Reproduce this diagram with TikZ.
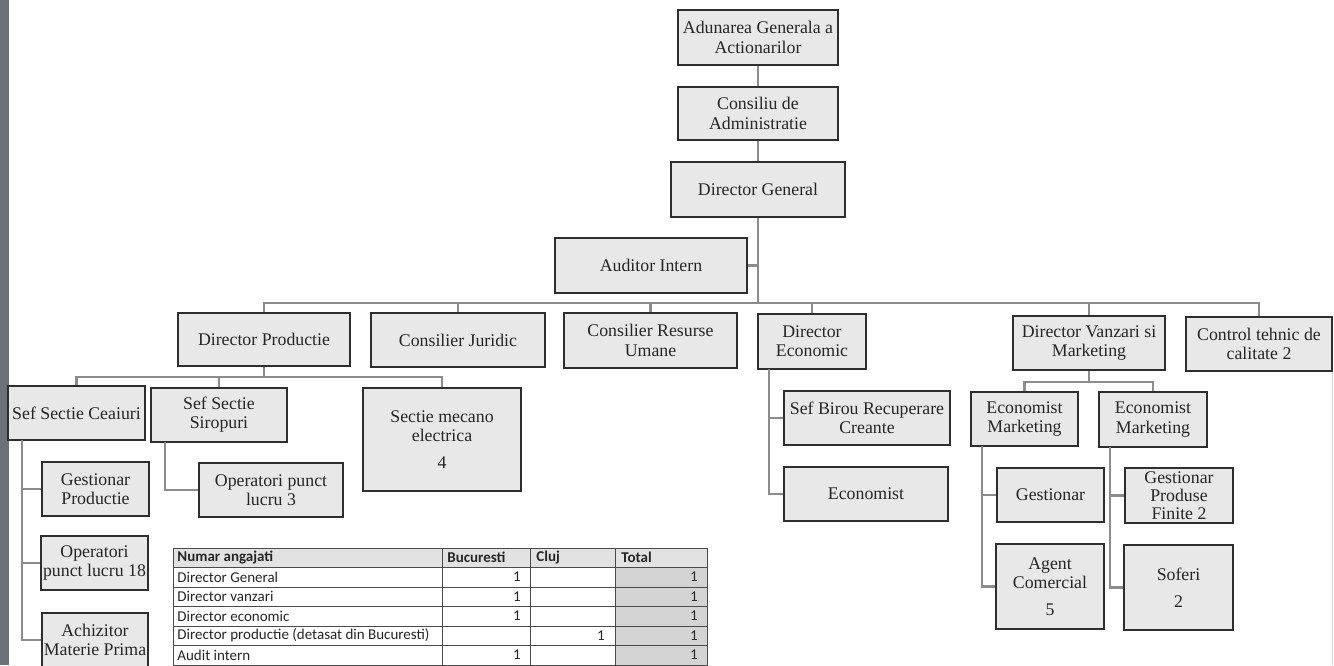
\documentclass[tikz,border=0pt]{standalone}
\usepackage{fontspec}
\setmainfont{Liberation Serif}
\newfontfamily\calibri{Carlito}
\definecolor{boxfill}{HTML}{E8E8E8}
\definecolor{boxline}{HTML}{2E2E2E}
\definecolor{connc}{HTML}{8C8C8C}
\definecolor{txt}{HTML}{262626}
\definecolor{tblhead}{HTML}{E2E2E2}
\definecolor{tbltot}{HTML}{D4D4D4}
\definecolor{tblline}{HTML}{4A4A4A}
\definecolor{stripc}{HTML}{6E7276}
\tikzset{
 obox/.style={draw=boxline, fill=boxfill, line width=1.4pt, text=txt, align=center, inner sep=0.5pt, font=\fontsize{8.9}{9.6}\selectfont},
 conn/.style={draw=connc, line width=1.3pt},
 tcell/.style={font=\calibri\fontsize{7.5}{8}\selectfont, text=txt, inner sep=0pt},
 thead/.style={tcell, font=\calibri\bfseries\fontsize{7.5}{8}\selectfont},
 tline/.style={draw=tblline, line width=0.5pt},
}
\newcommand\orgbox[6]{\node[obox, minimum width={(#4-#2)*0.5pt}, minimum height={(#5-#3)*0.5pt}] (#1) at ({(#2+#4)/2},{(#3+#5)/2}) {#6};}
\begin{document}
\begin{tikzpicture}[x=0.5pt,y=-0.5pt]
\useasboundingbox (0,0) rectangle (1334,665);
\begin{scope}
\clip (0,0) rectangle (1334,665);
\fill[white] (0,0) rectangle (1334,665);
\fill[stripc] (0,0) rectangle (9,665);
\draw[gray!30, line width=0.4pt] (1332,372) -- (1332,665);

% boxes
\orgbox{adunarea}{678}{10}{838}{65}{Adunarea Generala a\\Actionarilor}
\orgbox{consiliu}{678}{87}{838}{140}{Consiliu de\\Administratie}
\orgbox{dg}{671}{162}{845}{217}{Director General}
\orgbox{auditor}{555}{238}{747}{293}{Auditor Intern}

\orgbox{dirprod}{178}{313}{350}{366}{Director Productie}
\orgbox{consjur}{371}{313}{545}{367}{Consilier Juridic}
\orgbox{consru}{564}{313}{737}{368}{Consilier Resurse\\Umane}
\orgbox{direc}{758}{314}{866}{369}{Director\\Economic}
\orgbox{dirvm}{1013}{316}{1165}{370}{Director Vanzari si\\Marketing}
\orgbox{control}{1186}{317}{1332}{371}{Control tehnic de\\calitate 2}

\orgbox{ceaiuri}{8}{386}{145}{440}{Sef Sectie Ceaiuri}
\orgbox{siropuri}{151}{388}{287}{442}{Sef Sectie\\Siropuri}
\orgbox{mecano}{363}{388}{521}{491}{Sectie mecano\\electrica\\[4pt]4}
\orgbox{gestprod}{42}{462}{149}{516}{Gestionar\\Productie}
\orgbox{opdoi}{41}{536}{148}{590}{Operatori\\punct lucru 18}
\orgbox{achiz}{42}{613}{148}{667}{Achizitor\\Materie Prima}
\orgbox{optrei}{199}{463}{343}{517}{Operatori punct\\lucru 3}

\orgbox{sefbirou}{784}{391}{950}{445}{Sef Birou Recuperare\\Creante}
\orgbox{economist}{784}{467}{948}{521}{Economist}

\orgbox{emunu}{971}{392}{1078}{446}{Economist\\Marketing}
\orgbox{emdoi}{1099}{392}{1207}{447}{Economist\\Marketing}
\orgbox{gestionar}{997}{468}{1104}{522}{Gestionar}
\orgbox{agent}{996}{544}{1104}{629}{Agent\\Comercial\\[4pt]5}
\node[obox, minimum width={108*0.5pt}, minimum height={55*0.5pt}, font=\fontsize{8.9}{9}\selectfont] (gpf) at (1179,495.5) {Gestionar\\Produse\\Finite 2};
\orgbox{soferi}{1124}{545}{1233}{630}{Soferi\\[4pt]2}

% connectors
\coordinate (bus) at (758,303);
\coordinate (pbus) at (264,377);
\coordinate (vbus) at (1089,382);
\coordinate (cspine) at (22,440);
\coordinate (sspine) at (165,442);
\coordinate (espine) at (769,369);
\coordinate (mspineA) at (982,446);
\coordinate (mspineB) at (1110,447);

\draw[conn] (adunarea.south) -- (consiliu.north);
\draw[conn] (consiliu.south) -- (dg.north);
\draw[conn] (dg.south) -- (bus);
\draw[conn] (auditor.east) -- (auditor.east -| bus);
\foreach \n in {dirprod,consjur,consru,direc,dirvm,control}{
  \draw[conn] (\n.north) |- (bus);
}
\draw[conn] (dirprod.south) -- (pbus);
\foreach \n in {ceaiuri,siropuri,mecano}{
  \draw[conn] (\n.north) |- (pbus);
}
\draw[conn] (dirvm.south) -- (vbus);
\foreach \n in {emunu,emdoi}{
  \draw[conn] (\n.north) |- (vbus);
}
\draw[conn] (cspine) |- (gestprod.west);
\draw[conn] (cspine) |- (opdoi.west);
\draw[conn] (cspine) |- (achiz.west);
\draw[conn] (sspine) |- (optrei.west);
\draw[conn] (espine) |- (sefbirou.west);
\draw[conn] (espine) |- (economist.west);
\draw[conn] (mspineA) |- (gestionar.west);
\draw[conn] (mspineA) |- (agent.west);
\draw[conn] (mspineB) |- (gpf.west);
\draw[conn] (mspineB) |- (soferi.west);

% table
\fill[tblhead] (173,548) rectangle (707,567);
\fill[tbltot] (615,567) rectangle (707,690);
\foreach \yy in {548,567,587,606,626,645,665,684}{
  \draw[tline] (173,\yy) -- (707,\yy);
}
\foreach \xx in {173,442,530,615,707}{
  \draw[tline] (\xx,548) -- (\xx,690);
}
\node[thead, anchor=west] (th1) at (177,557.5) {Numar angajati};
\node[thead, anchor=west] (th2) at (447,557.5) {Bucuresti};
\node[thead, anchor=west] (th3) at (536,557.5) {Cluj};
\node[thead, anchor=west] (th4) at (621,557.5) {Total};
\node[tcell, anchor=west] (r1) at (177,577) {Director General};
\node[tcell, anchor=west] (r2) at (177,596.5) {Director vanzari};
\node[tcell, anchor=west] (r3) at (177,616) {Director economic};
\node[tcell, anchor=west] (r4) at (177,635.5) {Director productie (detasat din Bucuresti)};
\node[tcell, anchor=west] (r5) at (177,655) {Audit intern};
\node[tcell, anchor=east] (b1) at (521,577) {1};
\node[tcell, anchor=east] (b2) at (521,596.5) {1};
\node[tcell, anchor=east] (b3) at (521,616) {1};
\node[tcell, anchor=east] (b5) at (521,655) {1};
\node[tcell, anchor=east] (c4) at (605,635.5) {1};
\node[tcell, anchor=east] (t1) at (698,577) {1};
\node[tcell, anchor=east] (t2) at (698,596.5) {1};
\node[tcell, anchor=east] (t3) at (698,616) {1};
\node[tcell, anchor=east] (t4) at (698,635.5) {1};
\node[tcell, anchor=east] (t5) at (698,655) {1};
\end{scope}
\end{tikzpicture}
\end{document}
